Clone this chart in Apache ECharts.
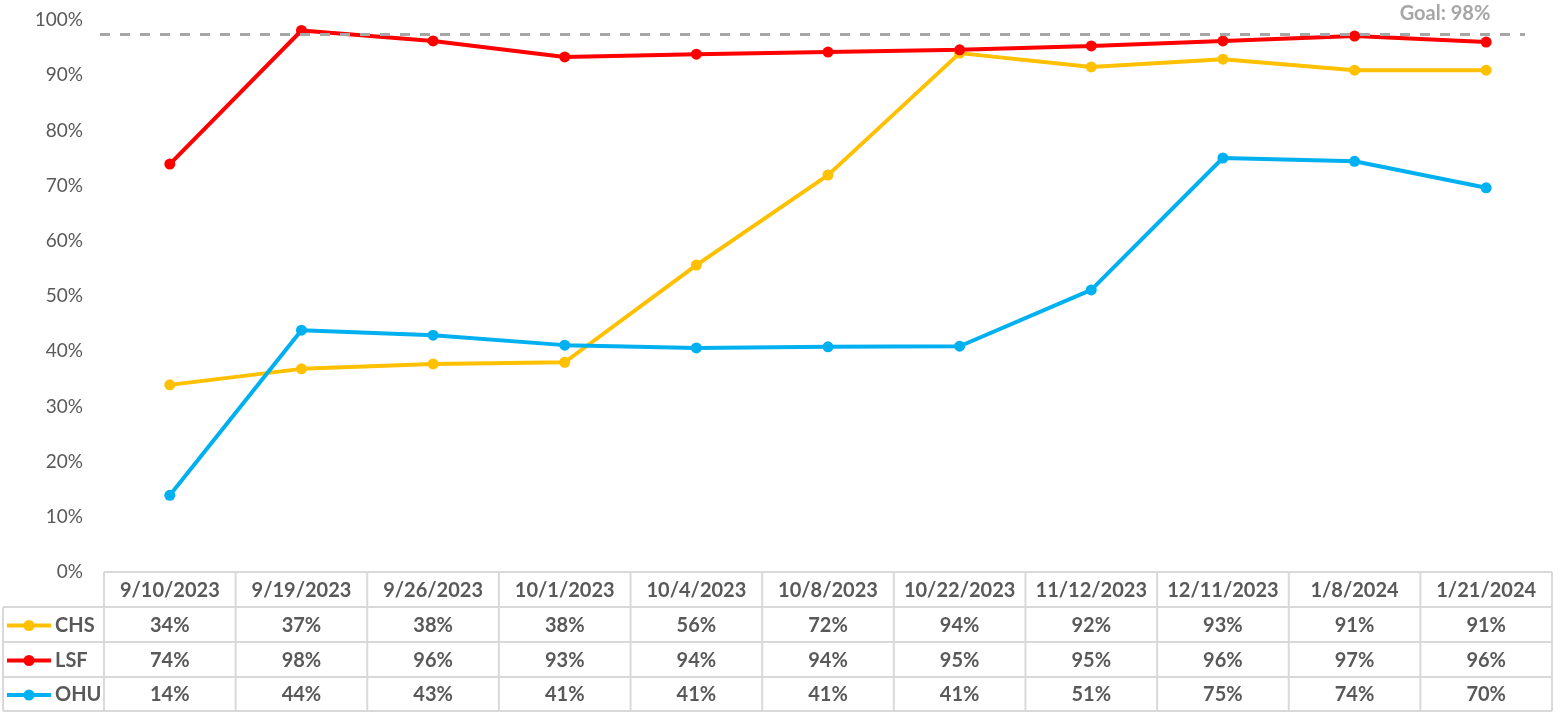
<!DOCTYPE html>
<html>
<head>
<meta charset="utf-8">
<script src="https://cdn.jsdelivr.net/npm/echarts@6/dist/echarts.min.js"></script>
<style>
  html, body { margin: 0; padding: 0; background: #fff; }
  #main { width: 1560px; height: 712px; }
</style>
</head>
<body>
<div id="main"></div>
<script>
// data
const dates = ['9/10/2023', '9/19/2023', '9/26/2023', '10/1/2023', '10/4/2023', '10/8/2023',
  '10/22/2023', '11/12/2023', '12/11/2023', '1/8/2024', '1/21/2024'];
const chs = [33.9, 36.8, 37.7, 38.0, 55.6, 71.9, 94.0, 91.5, 92.9, 90.9, 90.9];
const lsf = [73.9, 98.1, 96.2, 93.3, 93.8, 94.2, 94.6, 95.3, 96.2, 97.1, 96.0];
const ohu = [13.9, 43.8, 42.9, 41.1, 40.6, 40.8, 40.9, 51.1, 75.0, 74.4, 69.6];
const goal = 97.5;
const goalLabel = 'Goal: 98%';

const seriesDefs = [
  { name: 'CHS', data: chs, color: '#FFC000' },
  { name: 'LSF', data: lsf, color: '#FF0000' },
  { name: 'OHU', data: ohu, color: '#00B0F0' }
];

const FONT = 'Lato';
const TXT = '#595959';
const LINE = '#D9D9D9';

var chart = echarts.init(document.getElementById('main'));

const option = {
  animation: false,
  grid: { left: 104, right: 8, top: 20, bottom: 140 },
  xAxis: {
    type: 'category',
    data: dates,
    boundaryGap: true,
    axisLine: { show: false },
    axisTick: { show: false },
    axisLabel: { show: false }
  },
  yAxis: {
    type: 'value',
    min: 0, max: 100, interval: 10,
    axisLine: { show: false },
    axisTick: { show: false },
    splitLine: { show: false },
    axisLabel: { formatter: '{value}%', color: TXT, fontFamily: FONT, fontSize: 19, margin: 21 }
  },
  series: seriesDefs.map(s => ({
    name: s.name,
    type: 'line',
    data: s.data,
    symbol: 'circle',
    symbolSize: 11,
    lineStyle: { width: 4, color: s.color },
    itemStyle: { color: s.color },
    z: 3
  })).concat([{
    name: 'goal',
    type: 'line',
    data: [],
    markLine: {
      silent: true,
      symbol: 'none',
      label: { show: false },
      lineStyle: { color: '#A6A6A6', type: [10, 10], width: 3 },
      data: [[{ coord: [0, goal], x: 100 }, { coord: [dates.length - 1, goal], x: 1525 }]]
    },
    z: 1
  }])
};
chart.setOption(option);

// data table under the plot
function buildTable() {
  const els = [];
  const c0 = chart.convertToPixel({ xAxisIndex: 0 }, dates[0]);
  const c1 = chart.convertToPixel({ xAxisIndex: 0 }, dates[1]);
  const colW = c1 - c0;
  const left = c0 - colW / 2;
  const right = left + colW * dates.length;
  const top = chart.convertToPixel({ yAxisIndex: 0 }, 0);
  const rowH = 35;
  const legLeft = 3;
  const ys = [top, top + rowH, top + rowH * 2, top + rowH * 3, top + rowH * 4 - 1];
  const ls = { stroke: LINE, lineWidth: 2 };

  els.push({ type: 'line', shape: { x1: left, y1: ys[0], x2: right, y2: ys[0] }, style: ls });
  for (let i = 1; i < ys.length; i++) {
    els.push({ type: 'line', shape: { x1: legLeft, y1: ys[i], x2: right, y2: ys[i] }, style: ls });
  }
  els.push({ type: 'line', shape: { x1: legLeft, y1: ys[1], x2: legLeft, y2: ys[4] }, style: ls });
  for (let i = 0; i <= dates.length; i++) {
    const x = left + colW * i;
    els.push({ type: 'line', shape: { x1: x, y1: ys[0], x2: x, y2: ys[4] }, style: ls });
  }
  dates.forEach((d, i) => {
    const x = chart.convertToPixel({ xAxisIndex: 0 }, d);
    els.push({ type: 'text', x: x, y: (ys[0] + ys[1]) / 2 + 1,
      style: { text: d, fill: TXT, font: 'bold 20px ' + FONT, textAlign: 'center', textVerticalAlign: 'middle' } });
  });
  seriesDefs.forEach((s, r) => {
    const cy = (ys[r + 1] + ys[r + 2]) / 2 + 1;
    els.push({ type: 'line', shape: { x1: 7, y1: cy, x2: 51, y2: cy }, style: { stroke: s.color, lineWidth: 4 } });
    els.push({ type: 'circle', shape: { cx: 29, cy: cy, r: 5.5 }, style: { fill: s.color } });
    els.push({ type: 'text', x: 55, y: cy,
      style: { text: s.name, fill: TXT, font: 'bold 20px ' + FONT, textAlign: 'left', textVerticalAlign: 'middle' } });
    s.data.forEach((v, i) => {
      const x = chart.convertToPixel({ xAxisIndex: 0 }, dates[i]);
      els.push({ type: 'text', x: x, y: cy,
        style: { text: Math.round(v) + '%', fill: TXT, font: 'bold 20px ' + FONT, textAlign: 'center', textVerticalAlign: 'middle' } });
    });
  });
  els.push({ type: 'text', x: 1445, y: 14,
    style: { text: goalLabel, fill: '#A6A6A6', font: 'bold 20px ' + FONT, textAlign: 'center', textVerticalAlign: 'middle' } });
  return els;
}
chart.setOption({ graphic: { elements: buildTable() } });
</script>
</body>
</html>
